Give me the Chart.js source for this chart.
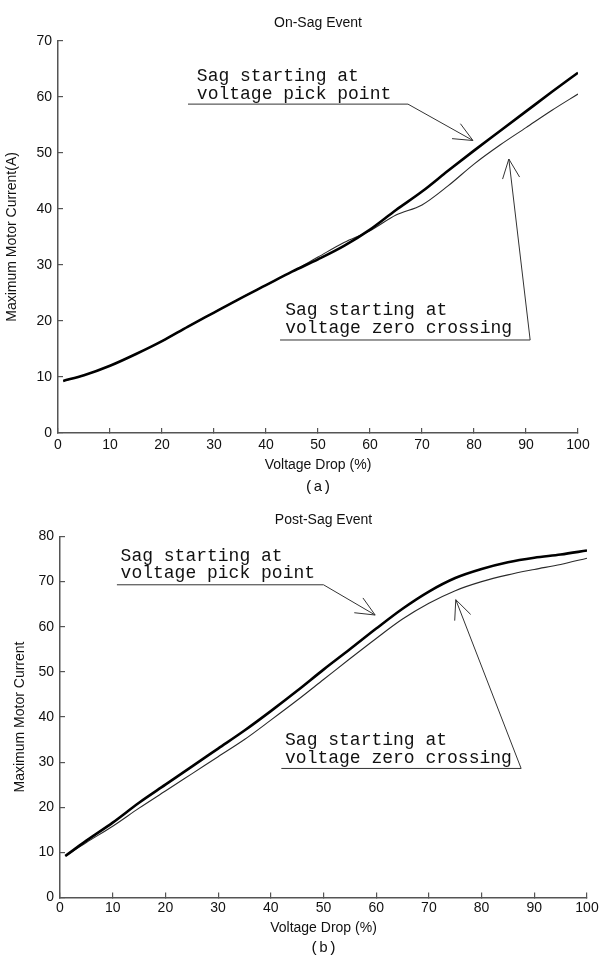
<!DOCTYPE html>
<html>
<head>
<meta charset="utf-8">
<script src="https://cdn.jsdelivr.net/npm/chart.js@4.4.1/dist/chart.umd.min.js"></script>
<style>
  html, body { margin: 0; padding: 0; background: #fff; overflow: hidden; }
  .wrap { position: relative; width: 600px; height: 956px; }
  canvas { position: absolute; left: 0; }
</style>
</head>
<body>
<div class="wrap">
  <canvas id="onSag" width="600" height="500" style="top:0"></canvas>
  <canvas id="postSag" width="600" height="466" style="top:490px"></canvas>
</div>
<script>
// x positions (voltage drop, %)
const voltageDrop = [1, 5, 10, 15, 20, 25, 30, 35, 40, 45, 50, 55, 60, 65, 70, 75, 80, 85, 90, 95, 100];

// (a) On-Sag event, maximum motor current (A)
const onSagPickPoint = [9.3, 10.3, 12.0, 14.1, 16.4, 19.0, 21.5, 24.0, 26.4, 28.8, 31.0, 33.4, 36.3, 39.8, 43.1, 46.8, 50.4, 53.9, 57.4, 60.9, 64.3];
const onSagZeroCross = [9.3, 10.3, 12.0, 14.1, 16.4, 19.0, 21.5, 24.0, 26.4, 28.8, 31.4, 34.0, 36.1, 38.9, 40.7, 44.1, 48.0, 51.4, 54.5, 57.6, 60.5];

// (b) Post-Sag event, maximum motor current
const postSagPickPoint = [9.2, 12.6, 16.6, 21.0, 25.0, 29.0, 33.0, 37.0, 41.3, 45.8, 50.5, 55.0, 59.6, 64.0, 67.8, 70.8, 72.8, 74.3, 75.3, 76.0, 76.9];
const postSagZeroCross = [9.2, 12.2, 15.8, 19.8, 23.6, 27.4, 31.2, 35.0, 39.3, 43.7, 48.3, 52.9, 57.4, 61.7, 65.2, 68.0, 70.0, 71.5, 72.7, 73.8, 75.2];

const noteLines = {
  pick: ["Sag starting at", "voltage pick point"],
  zero: ["Sag starting at", "voltage zero crossing"]
};

const SANS = "'Liberation Sans', Arial, sans-serif";
const MONO = "'Liberation Mono', 'Courier New', monospace";

// text + underline + leader arrow, placed in data units
const arrowNotes = {
  id: "arrowNotes",
  afterDatasetsDraw(chart, args, opts) {
    const { ctx, scales: { x, y } } = chart;
    ctx.save();
    ctx.strokeStyle = "#333";
    ctx.fillStyle = "#111";
    ctx.lineWidth = 1;
    ctx.font = "18px " + MONO;
    ctx.textBaseline = "middle";
    (opts.items || []).forEach(n => {
      n.lines.forEach((t, i) => {
        ctx.fillText(t, x.getPixelForValue(n.textX), y.getPixelForValue(n.textY[i]));
      });
      const ux0 = x.getPixelForValue(n.under[0]);
      const ux1 = x.getPixelForValue(n.under[1]);
      const uy = y.getPixelForValue(n.under[2]);
      const tx = x.getPixelForValue(n.tip[0]);
      const ty = y.getPixelForValue(n.tip[1]);
      ctx.beginPath();
      ctx.moveTo(ux0, uy);
      ctx.lineTo(ux1, uy);
      ctx.lineTo(tx, ty);
      ctx.stroke();
      const ang = Math.atan2(ty - uy, tx - ux1);
      [-1, 1].forEach(s => {
        ctx.beginPath();
        ctx.moveTo(tx, ty);
        ctx.lineTo(tx - 21 * Math.cos(ang + s * 0.42), ty - 21 * Math.sin(ang + s * 0.42));
        ctx.stroke();
      });
    });
    ctx.restore();
  }
};

function series(values, thick) {
  return {
    data: voltageDrop.map((v, i) => ({ x: v, y: values[i] })),
    borderColor: thick ? "#000" : "#2a2a2a",
    borderWidth: thick ? 2.6 : 1.1,
    pointRadius: 0,
    cubicInterpolationMode: "monotone",
    fill: false
  };
}

function makeChart(id, cfg) {
  return new Chart(document.getElementById(id).getContext("2d"), {
    type: "line",
    data: { datasets: [series(cfg.pick, true), series(cfg.zero, false)] },
    plugins: [arrowNotes],
    options: {
      responsive: false,
      animation: false,
      devicePixelRatio: 1,
      layout: { padding: cfg.padding },
      plugins: {
        legend: { display: false },
        tooltip: { enabled: false },
        title: {
          display: true,
          text: cfg.title,
          fullSize: false,
          color: "#111",
          font: { family: SANS, size: 14, weight: "normal" },
          padding: cfg.titlePad
        },
        subtitle: {
          display: true,
          text: cfg.caption,
          position: "bottom",
          fullSize: false,
          color: "#111",
          font: { family: MONO, size: 15, lineHeight: cfg.capLine },
          padding: 0
        },
        arrowNotes: { items: cfg.notes }
      },
      scales: {
        x: {
          type: "linear",
          min: 0,
          max: 100,
          afterFit: s => {
            s.height = cfg.xHeight;
            s.paddingLeft = 0;
            s.paddingRight = 0;
          },
          border: { display: true, color: "#555", width: 1.5 },
          grid: { drawOnChartArea: false, tickLength: -5, color: "#555", lineWidth: 1.2 },
          ticks: { stepSize: 10, padding: cfg.xTickPad, color: "#111", maxRotation: 0, font: { family: SANS, size: 14 } },
          title: {
            display: true,
            text: "Voltage Drop (%)",
            color: "#111",
            font: { family: SANS, size: 14 },
            padding: { top: 0, bottom: cfg.xTitlePad }
          }
        },
        y: {
          min: 0,
          max: cfg.yMax,
          afterFit: s => { s.width = cfg.yWidth; },
          border: { display: true, color: "#555", width: 1.5 },
          grid: { drawOnChartArea: false, tickLength: -5, color: "#555", lineWidth: 1.2 },
          ticks: { stepSize: 10, padding: 11, color: "#111", font: { family: SANS, size: 14 } },
          title: {
            display: true,
            text: cfg.yTitle,
            color: "#111",
            font: { family: SANS, size: 14 },
            padding: { top: cfg.yTitlePad, bottom: 0 }
          }
        }
      }
    }
  });
}

makeChart("onSag", {
  pick: onSagPickPoint,
  zero: onSagZeroCross,
  title: "On-Sag Event",
  caption: "(a)",
  yTitle: "Maximum Motor Current(A)",
  yMax: 70,
  padding: { left: 0, right: 22, top: 0, bottom: 4 },
  titlePad: { top: 15, bottom: 9 },
  capLine: 1.2,
  xHeight: 45,
  xTickPad: 8.5,
  xTitlePad: 4.6,
  yWidth: 58,
  yTitlePad: 4,
  notes: [
    { lines: noteLines.pick, textX: 26.7, textY: [63.75, 60.5], under: [25, 67.3, 58.7], tip: [79.8, 52.2] },
    { lines: noteLines.zero, textX: 43.7, textY: [21.96, 18.75], under: [42.7, 90.8, 16.6], tip: [86.7, 48.9] }
  ]
});

makeChart("postSag", {
  pick: postSagPickPoint,
  zero: postSagZeroCross,
  title: "Post-Sag Event",
  caption: "(b)",
  yTitle: "Maximum Motor Current",
  yMax: 80,
  padding: { left: 0, right: 13, top: 0, bottom: 0 },
  titlePad: { top: 21.6, bottom: 8.1 },
  capLine: 1.0,
  xHeight: 43.5,
  xTickPad: 7.5,
  xTitlePad: 4.9,
  yWidth: 60,
  yTitlePad: 11.6,
  notes: [
    { lines: noteLines.pick, textX: 11.5, textY: [75.6, 71.9], under: [10.8, 50, 69.3], tip: [59.8, 62.6] },
    { lines: noteLines.zero, textX: 42.7, textY: [34.9, 30.9], under: [42.0, 87.5, 28.6], tip: [75.1, 66.0] }
  ]
});
</script>
</body>
</html>
